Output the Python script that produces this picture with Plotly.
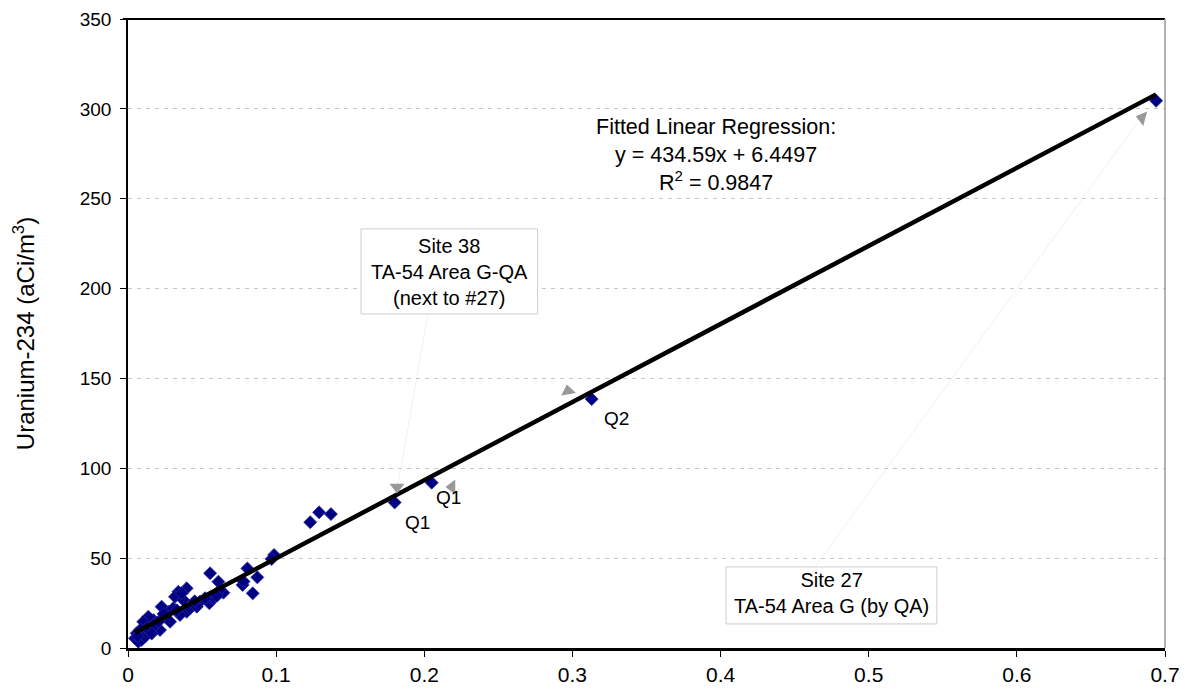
import plotly.graph_objects as go

# ---- data ----
x_vals = [0.694, 0.313, 0.205, 0.180, 0.123, 0.129, 0.137, 0.0986, 0.097, 0.0806,
          0.0873, 0.0774, 0.0842, 0.0554, 0.061, 0.0644, 0.0549, 0.0486, 0.0396, 0.034,
          0.0317, 0.0373, 0.0396, 0.0351, 0.0227, 0.025, 0.0284, 0.0216, 0.0171, 0.0137,
          0.0103, 0.0126, 0.0081, 0.0059, 0.0047, 0.007, 0.0092, 0.0115, 0.0149, 0.0182,
          0.0205, 0.0272, 0.0306, 0.0419, 0.0464, 0.0576, 0.0621, 0.052, 0.0362, 0.078,
          0.060, 0.045, 0.033, 0.0065, 0.016, 0.024]
y_vals = [304.5, 138.5, 92.0, 81.0, 70.0, 75.5, 74.5, 51.8, 49.5, 44.3,
          39.3, 35.1, 30.4, 41.6, 36.9, 30.8, 24.9, 25.8, 33.2, 31.3,
          28.5, 26.7, 20.2, 18.4, 23.0, 17.4, 14.6, 10.0, 15.6, 17.4,
          14.6, 11.0, 10.0, 8.2, 5.4, 3.5, 4.5, 6.3, 9.1, 12.8,
          14.6, 20.2, 22.1, 22.1, 23.0, 27.7, 32.3, 27.7, 30.4, 37.0,
          29.0, 26.0, 21.0, 6.5, 8.0, 19.0]

fit_slope = 434.59
fit_intercept = 6.4497
fit_r2 = 0.9847

# QA pointer triangles
tri_x = [0.1816, 0.2187, 0.297, 0.6845]
tri_y = [89.6, 89.6, 143.0, 295.0]
tri_symbol = ["triangle-down", "triangle-left", "triangle-up", "triangle-left"]
tri_angle = [0, 0, -10, 15]

q_labels = ["Q1", "Q1", "Q2"]
q_x = [0.1955, 0.2165, 0.3295]
q_y = [70.0, 83.8, 127.5]

x_ticks = [0, 0.1, 0.2, 0.3, 0.4, 0.5, 0.6, 0.7]
x_tick_text = ["0", "0.1", "0.2", "0.3", "0.4", "0.5", "0.6", "0.7"]
y_ticks = [0, 50, 100, 150, 200, 250, 300, 350]

FONT = "Liberation Sans, Arial, sans-serif"

fig = go.Figure()

# faint pointer lines (drawn first)
fig.add_shape(type="line", x0=0.2025, y0=185.9, x1=0.1823, y1=91.3,
              line=dict(color="#f1f1f1", width=1), layer="below")
fig.add_shape(type="line", x0=0.4637, y0=45.1, x1=0.6818, y1=292.7,
              line=dict(color="#f1f1f1", width=1), layer="below")

fig.add_trace(go.Scatter(
    x=x_vals, y=y_vals, mode="markers",
    marker=dict(symbol="diamond", size=10, color="#000080",
                line=dict(color="#2a2aa8", width=0.8)),
    showlegend=False, hoverinfo="x+y"))

x_line = [min(x_vals), max(x_vals)]
y_line = [fit_slope * v + fit_intercept for v in x_line]
fig.add_trace(go.Scatter(
    x=x_line, y=y_line, mode="lines",
    line=dict(color="black", width=4.5), showlegend=False, hoverinfo="skip"))

fig.add_trace(go.Scatter(
    x=tri_x, y=tri_y, mode="markers",
    marker=dict(symbol=tri_symbol, angle=tri_angle, size=13, color="#999999",
                line=dict(width=0)),
    showlegend=False, hoverinfo="skip"))

for t, xx, yy in zip(q_labels, q_x, q_y):
    fig.add_annotation(x=xx, y=yy, text=t, showarrow=False,
                       font=dict(family=FONT, size=19, color="black"))

fig.add_annotation(
    x=0.3968, y=274.5, xref="x", yref="y", showarrow=False,
    text="Fitted Linear Regression:<br>y = %.2fx + %.4f<br>R<sup>2</sup> = %.4f" % (fit_slope, fit_intercept, fit_r2),
    font=dict(family=FONT, size=21.5, color="black"), align="center")

# text boxes
fig.add_shape(type="rect", x0=0.1573, x1=0.2765, y0=185.9, y1=233.2,
              line=dict(color="#cccccc", width=1), fillcolor="white")
fig.add_annotation(x=0.2169, y=209.5, showarrow=False, align="center",
                   text="Site 38<br>TA-54 Area G-QA<br>(next to #27)",
                   font=dict(family=FONT, size=20, color="black"))
fig.add_shape(type="rect", x0=0.4037, x1=0.546, y0=13.4, y1=45.1,
              line=dict(color="#cccccc", width=1), fillcolor="white")
fig.add_annotation(x=0.4749, y=30.6, showarrow=False, align="center",
                   text="Site 27<br>TA-54 Area G (by QA)",
                   font=dict(family=FONT, size=20, color="black"))

# top and right borders
fig.add_shape(type="line", xref="x domain", yref="y domain", x0=-0.005, x1=1, y0=1, y1=1,
              line=dict(color="black", width=2))
fig.add_shape(type="line", xref="x domain", yref="y domain", x0=1, x1=1, y0=0, y1=1,
              line=dict(color="#999999", width=1.5))

fig.update_xaxes(
    range=[0, 0.7], tickvals=x_ticks, ticktext=x_tick_text, automargin=False,
    showgrid=False, zeroline=False, showline=True, linecolor="black", linewidth=3,
    ticks="outside", ticklen=6, tickwidth=1, tickcolor="black",
    tickfont=dict(family=FONT, size=21, color="black"))
fig.update_yaxes(
    range=[0, 350], tickvals=y_ticks, automargin=False,
    showgrid=True, gridcolor="#c8c8c8", gridwidth=1, griddash="4px,5px",
    zeroline=False, showline=True, linecolor="black", linewidth=1.5,
    ticks="outside", ticklen=6, tickwidth=1, tickcolor="black", ticklabelstandoff=5,
    tickfont=dict(family=FONT, size=19, color="black"),
    title=dict(text="Uranium-234 (aCi/m<sup>3</sup>)", font=dict(family=FONT, size=24, color="black"),
               standoff=38))

# page body has an 8px margin, so the figure is sized to fit inside it
fig.update_layout(
    width=1178, height=680,
    margin=dict(l=120, r=21, t=11, b=40),
    paper_bgcolor="white", plot_bgcolor="white",
    showlegend=False)

fig.write_html("out.html")
